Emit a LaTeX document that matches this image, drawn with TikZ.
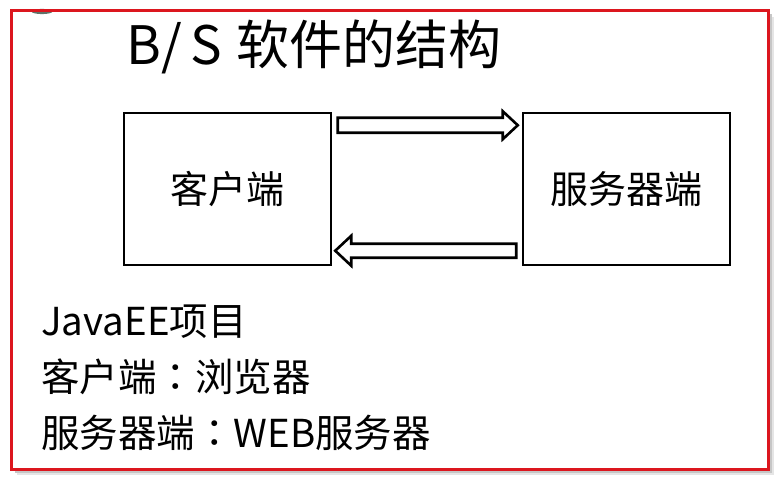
\documentclass[tikz,border=0pt]{standalone}
\usepackage{fontspec}
\setmainfont{Noto Sans CJK SC}
\newfontfamily\jpfont{Noto Sans CJK JP}
\usetikzlibrary{calc}
\definecolor{frame}{RGB}{220,22,30}
\definecolor{blobc}{RGB}{95,115,105}
\tikzset{
  panel/.style={draw=black, line width=1.5pt, minimum width=207pt, minimum height=152pt, inner sep=0pt, font=\fontsize{38pt}{40pt}\selectfont},
  blockarrow/.style={draw=black, line width=2.6pt, fill=white, line join=miter},
  bodytext/.style={anchor=west, inner sep=0pt, font=\fontsize{38.5pt}{40pt}\selectfont},
  titletext/.style={anchor=west, inner sep=0pt, font=\fontsize{53pt}{56pt}\selectfont}
}
\begin{document}
\begin{tikzpicture}[x=1pt,y=-1pt]
\useasboundingbox (0,0) rectangle (780,481);
\fill[white] (0,0) rectangle (780,481);
% shadow
\fill[gray!20] (17,17) rectangle (774,475);
\fill[gray!45] (14.5,14.5) rectangle (771.5,472.5);
\fill[white] (11,11) rectangle (768,469);
\fill[blobc] (42,11.5) ellipse (10.5 and 2.6);
\draw[frame, line width=3pt] (11,11) rectangle (768,469);
% title
\node[titletext] (title) at (126,47) {\makebox[35pt][l]{B}\makebox[29pt][l]{/}\makebox[46pt][l]{S}软件的结构};
% boxes
\node[panel] (c) at (227.5,189) {客户端};
\node[panel] (s) at (626.5,189) {服务器端};
% arrows
\coordinate (r0) at ([shift={(6,5.5)}]c.north east);
\draw[blockarrow] (r0) -- ++(165,0) -- ++(0,-6.5) -- ++(15,14) -- ++(-15,14) -- ++(0,-6.5) -- ++(-165,0) -- cycle;
\coordinate (r1) at ([shift={(-6,-22)}]s.south west);
\draw[blockarrow] (r1) -- ++(-165,0) -- ++(0,-8) -- ++(-16,15) -- ++(16,15) -- ++(0,-8) -- ++(165,0) -- cycle;
% bottom text
\node[bodytext] (l1) at (41,322) {JavaEE项目};
\node[bodytext] (l2) at (41,377) {客户端{\jpfont ：}浏览器};
\node[bodytext] (l3) at (41,433) {服务器端{\jpfont ：}WEB服务器};
\end{tikzpicture}
\end{document}
